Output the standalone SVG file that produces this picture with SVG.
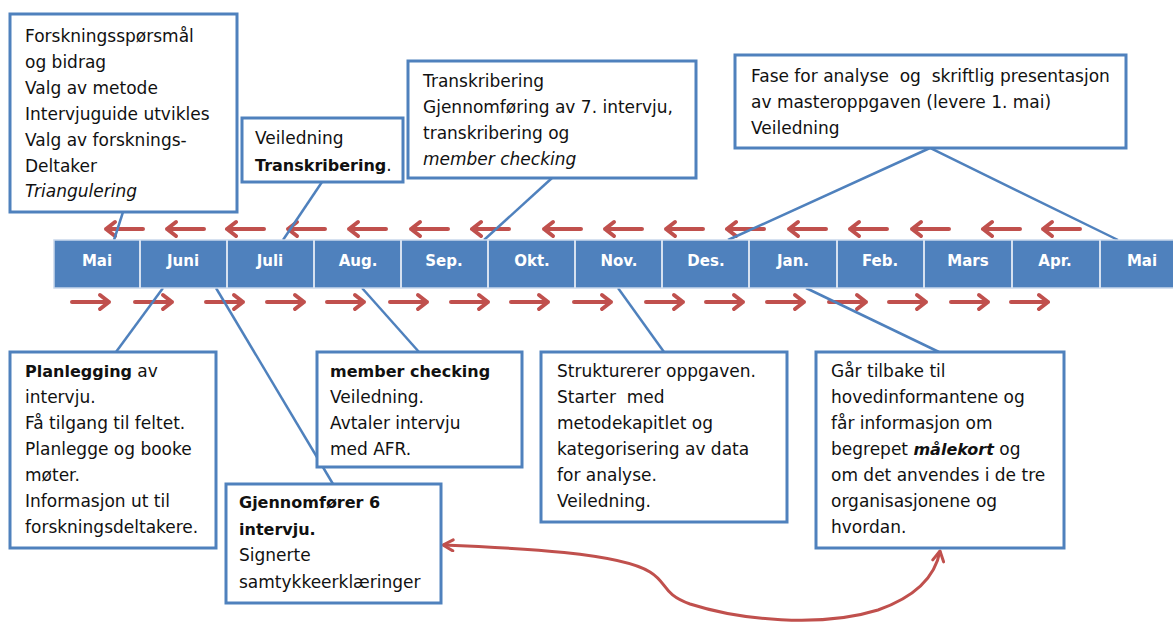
<svg xmlns="http://www.w3.org/2000/svg" xmlns:xlink="http://www.w3.org/1999/xlink" width="1173" height="626" viewBox="0 0 1173 626">
<style>
.box{fill:#fff;stroke:#4f81bd;stroke-width:3}
.t{font-family:"DejaVu Sans",Verdana,sans-serif;font-size:17px;fill:#111}
.b{font-weight:bold;font-size:16px}
.i{font-style:italic}
.m{font-family:"DejaVu Sans",Verdana,sans-serif;font-size:15px;font-weight:bold;fill:#fff;text-anchor:middle}
.con{stroke:#4f81bd;stroke-width:2.5;fill:none}
.ra{stroke:#c0504d;stroke-width:4;fill:none;stroke-linecap:round;stroke-linejoin:round}
.sep{stroke:#d6e1f0;stroke-width:2}
</style>
<defs>
<path id="al" d="M0,0 H37 M9,-7 L0,0 L9,7"/>
<path id="ar" d="M0,0 H37 M28,-7 L37,0 L28,7"/>
<marker id="ch" markerUnits="userSpaceOnUse" viewBox="0 0 14 14" markerWidth="14" markerHeight="14" refX="12" refY="7" orient="auto-start-reverse">
<path d="M2,1.5 L12,7 L2,12.5" fill="none" stroke="#c0504d" stroke-width="3" stroke-linecap="round" stroke-linejoin="round"/>
</marker>
</defs>

<g id="arrows-top" class="ra">
<use href="#al" x="106" y="229"/><use href="#al" x="167" y="229"/><use href="#al" x="227" y="229"/><use href="#al" x="288" y="229"/>
<use href="#al" x="349" y="229"/><use href="#al" x="411" y="229"/><use href="#al" x="472" y="229"/><use href="#al" x="544" y="229"/>
<use href="#al" x="605" y="229"/><use href="#al" x="666" y="229"/><use href="#al" x="727" y="229"/><use href="#al" x="789" y="229"/>
<use href="#al" x="850" y="229"/><use href="#al" x="912" y="229"/><use href="#al" x="983" y="229"/><use href="#al" x="1043" y="229"/>
</g>
<g id="arrows-bottom" class="ra">
<use href="#ar" x="72" y="302"/><use href="#ar" x="135" y="302"/><use href="#ar" x="206" y="302"/><use href="#ar" x="267" y="302"/>
<use href="#ar" x="327" y="302"/><use href="#ar" x="390" y="302"/><use href="#ar" x="451" y="302"/><use href="#ar" x="511" y="302"/>
<use href="#ar" x="574" y="302"/><use href="#ar" x="646" y="302"/><use href="#ar" x="706" y="302"/><use href="#ar" x="767" y="302"/>
<use href="#ar" x="829" y="302"/><use href="#ar" x="889" y="302"/><use href="#ar" x="951" y="302"/><use href="#ar" x="1011" y="302"/>
</g>

<g id="connectors" class="con">
<line x1="123" y1="212" x2="114" y2="240"/>
<line x1="322" y1="182" x2="283" y2="240"/>
<line x1="552" y1="178" x2="484" y2="240"/>
<polyline points="728,240 930,148 1118,240"/>
<line x1="163" y1="288" x2="116" y2="352"/>
<line x1="216" y1="288" x2="333" y2="484"/>
<line x1="362" y1="288" x2="419" y2="352"/>
<line x1="618" y1="288" x2="664" y2="352"/>
<line x1="806" y1="288" x2="939" y2="352"/>
<path d="M443,545 C520,548 620,553 650,572 C668,583 662,594 690,604 C740,620 820,628 878,610 C915,597 935,578 940,551" stroke="#c0504d" stroke-width="3" marker-start="url(#ch)" marker-end="url(#ch)"/>
</g>

<g id="timeline">
<rect x="54" y="240" width="1125" height="48" fill="#4f81bd" stroke="#c9d8ec" stroke-width="1.5"/>
<g class="sep">
<line x1="140" y1="240" x2="140" y2="288"/><line x1="227" y1="240" x2="227" y2="288"/><line x1="314" y1="240" x2="314" y2="288"/>
<line x1="401" y1="240" x2="401" y2="288"/><line x1="488" y1="240" x2="488" y2="288"/><line x1="575" y1="240" x2="575" y2="288"/>
<line x1="662" y1="240" x2="662" y2="288"/><line x1="749" y1="240" x2="749" y2="288"/><line x1="837" y1="240" x2="837" y2="288"/>
<line x1="924" y1="240" x2="924" y2="288"/><line x1="1012" y1="240" x2="1012" y2="288"/><line x1="1100" y1="240" x2="1100" y2="288"/>
</g>
<text class="m" x="97" y="266">Mai</text><text class="m" x="183" y="266">Juni</text><text class="m" x="270" y="266">Juli</text>
<text class="m" x="358" y="266">Aug.</text><text class="m" x="444" y="266">Sep.</text><text class="m" x="532" y="266">Okt.</text>
<text class="m" x="619" y="266">Nov.</text><text class="m" x="706" y="266">Des.</text><text class="m" x="793" y="266">Jan.</text>
<text class="m" x="880" y="266">Feb.</text><text class="m" x="968" y="266">Mars</text><text class="m" x="1055" y="266">Apr.</text>
<text class="m" x="1142" y="266">Mai</text>
</g>

<g id="box-mai">
<rect class="box" x="10" y="14" width="227" height="198"/>
<text class="t" x="25" y="42">Forskningsspørsmål</text>
<text class="t" x="25" y="68">og bidrag</text>
<text class="t" x="25" y="94">Valg av metode</text>
<text class="t" x="25" y="120">Intervjuguide utvikles</text>
<text class="t" x="25" y="146">Valg av forsknings-</text>
<text class="t" x="25" y="172">Deltaker</text>
<text class="t i" x="25" y="197">Triangulering</text>
</g>

<g id="box-juli">
<rect class="box" x="242" y="118" width="161" height="64"/>
<text class="t" x="255" y="144">Veiledning</text>
<text class="t b" x="255" y="171">Transkribering<tspan font-weight="normal" font-size="17">.</tspan></text>
</g>

<g id="box-sep">
<rect class="box" x="408" y="61" width="288" height="117"/>
<text class="t" x="423" y="87">Transkribering</text>
<text class="t" x="423" y="113">Gjennomføring av 7. intervju,</text>
<text class="t" x="423" y="139">transkribering og</text>
<text class="t i" x="423" y="165">member checking</text>
</g>

<g id="box-des-mai">
<rect class="box" x="735" y="55" width="391" height="93"/>
<text class="t" x="751" y="82" xml:space="preserve">Fase for analyse  og  skriftlig presentasjon</text>
<text class="t" x="751" y="108">av masteroppgaven (levere 1. mai)</text>
<text class="t" x="751" y="134">Veiledning</text>
</g>

<g id="box-juni">
<rect class="box" x="10" y="352" width="206" height="196"/>
<text class="t" x="25" y="377"><tspan class="b">Planlegging</tspan> av</text>
<text class="t" x="25" y="403">intervju.</text>
<text class="t" x="25" y="429">Få tilgang til feltet.</text>
<text class="t" x="25" y="455">Planlegge og booke</text>
<text class="t" x="25" y="481">møter.</text>
<text class="t" x="25" y="507">Informasjon ut til</text>
<text class="t" x="25" y="533">forskningsdeltakere.</text>
</g>

<g id="box-juli-intervju">
<rect class="box" x="226" y="484" width="215" height="119"/>
<text class="t b" x="239" y="508">Gjennomfører 6</text>
<text class="t b" x="239" y="535">intervju.</text>
<text class="t" x="239" y="561">Signerte</text>
<text class="t" x="239" y="588">samtykkeerklæringer</text>
</g>

<g id="box-aug">
<rect class="box" x="317" y="352" width="205" height="115"/>
<text class="t b" x="330" y="377">member checking</text>
<text class="t" x="330" y="403">Veiledning.</text>
<text class="t" x="330" y="429">Avtaler intervju</text>
<text class="t" x="330" y="455">med AFR.</text>
</g>

<g id="box-nov">
<rect class="box" x="541" y="352" width="246" height="170"/>
<text class="t" x="557" y="377">Strukturerer oppgaven.</text>
<text class="t" x="557" y="403" xml:space="preserve">Starter  med</text>
<text class="t" x="557" y="429">metodekapitlet og</text>
<text class="t" x="557" y="455">kategorisering av data</text>
<text class="t" x="557" y="481">for analyse.</text>
<text class="t" x="557" y="507">Veiledning.</text>
</g>

<g id="box-jan">
<rect class="box" x="816" y="352" width="248" height="196"/>
<text class="t" x="831" y="377">Går tilbake til</text>
<text class="t" x="831" y="403">hovedinformantene og</text>
<text class="t" x="831" y="429">får informasjon om</text>
<text class="t" x="831" y="455">begrepet <tspan class="b i">målekort</tspan> og</text>
<text class="t" x="831" y="481">om det anvendes i de tre</text>
<text class="t" x="831" y="507">organisasjonene og</text>
<text class="t" x="831" y="533">hvordan.</text>
</g>
</svg>
